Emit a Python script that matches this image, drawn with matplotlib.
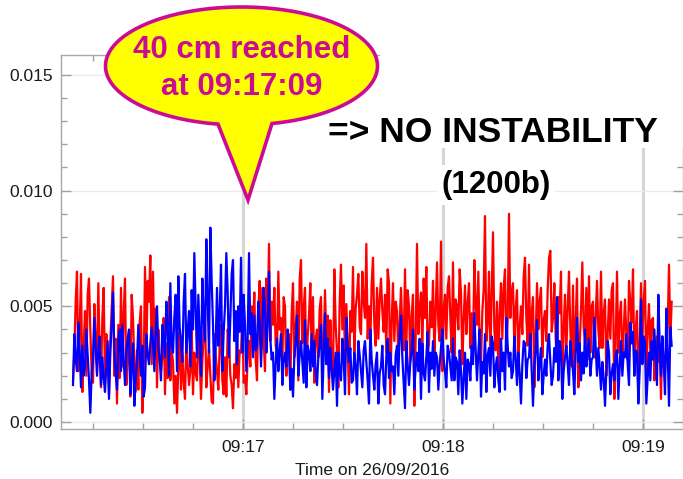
import matplotlib
matplotlib.use("Agg")
import matplotlib.pyplot as plt
import matplotlib.dates as mdates
import numpy as np
import pandas as pd
from matplotlib.patches import Polygon, Rectangle
from matplotlib.ticker import MultipleLocator, FormatStrFormatter

# sample clock: one reading every 0.4 s starting 09:16:09
START = "2016-09-26 09:16:09"
STEP = "400ms"

red_signal = [
    0.0018, 0.0030, 0.0052, 0.0065, 0.0022, 0.0040, 0.0064, 0.0013, 0.0033, 0.0048,
    0.0020, 0.0055, 0.0062, 0.0040, 0.0021, 0.0017, 0.0051, 0.0034, 0.0025, 0.0060,
    0.0028, 0.0015, 0.0045, 0.0058, 0.0019, 0.0038, 0.0026, 0.0012, 0.0035, 0.0049,
    0.0063, 0.0020, 0.0036, 0.0008, 0.0042, 0.0019, 0.0058, 0.0024, 0.0047, 0.0062,
    0.0016, 0.0029, 0.0038, 0.0011, 0.0055, 0.0045, 0.0026, 0.0013, 0.0031, 0.0014,
    0.0043, 0.0050, 0.0004, 0.0022, 0.0067, 0.0030, 0.0061, 0.0052, 0.0072, 0.0025,
    0.0065, 0.0030, 0.0049, 0.0015, 0.0040, 0.0027, 0.0022, 0.0028, 0.0045, 0.0012,
    0.0034, 0.0019, 0.0054, 0.0018, 0.0031, 0.0026, 0.0008, 0.0020, 0.0004, 0.0024,
    0.0039, 0.0014, 0.0030, 0.0017, 0.0010, 0.0036, 0.0025, 0.0016, 0.0022, 0.0041,
    0.0012, 0.0030, 0.0021, 0.0018, 0.0045, 0.0027, 0.0010, 0.0026, 0.0037, 0.0048,
    0.0015, 0.0024, 0.0032, 0.0020, 0.0009, 0.0008, 0.0038, 0.0029, 0.0022, 0.0014,
    0.0033, 0.0042, 0.0018, 0.0012, 0.0028, 0.0011, 0.0040, 0.0035, 0.0020, 0.0016,
    0.0006, 0.0025, 0.0019, 0.0038, 0.0015, 0.0031, 0.0030, 0.0046, 0.0017, 0.0020,
    0.0012, 0.0028, 0.0035, 0.0024, 0.0050, 0.0042, 0.0056, 0.0027, 0.0018, 0.0048,
    0.0061, 0.0030, 0.0058, 0.0036, 0.0022, 0.0062, 0.0044, 0.0077, 0.0035, 0.0052,
    0.0042, 0.0058, 0.0033, 0.0030, 0.0065, 0.0040, 0.0045, 0.0025, 0.0054, 0.0050,
    0.0020, 0.0031, 0.0038, 0.0014, 0.0047, 0.0060, 0.0028, 0.0039, 0.0052, 0.0018,
    0.0062, 0.0070, 0.0034, 0.0049, 0.0058, 0.0022, 0.0037, 0.0046, 0.0060, 0.0027,
    0.0054, 0.0017, 0.0036, 0.0040, 0.0028, 0.0049, 0.0054, 0.0022, 0.0031, 0.0057,
    0.0035, 0.0046, 0.0013, 0.0044, 0.0025, 0.0020, 0.0066, 0.0042, 0.0030, 0.0015,
    0.0052, 0.0068, 0.0040, 0.0059, 0.0026, 0.0051, 0.0033, 0.0012, 0.0048, 0.0039,
    0.0067, 0.0030, 0.0049, 0.0055, 0.0064, 0.0041, 0.0038, 0.0065, 0.0052, 0.0045,
    0.0077, 0.0036, 0.0050, 0.0034, 0.0060, 0.0071, 0.0042, 0.0033, 0.0058, 0.0036,
    0.0053, 0.0062, 0.0048, 0.0039, 0.0055, 0.0030, 0.0066, 0.0060, 0.0008, 0.0044,
    0.0060, 0.0035, 0.0052, 0.0048, 0.0028, 0.0043, 0.0058, 0.0040, 0.0031, 0.0066,
    0.0032, 0.0057, 0.0050, 0.0026, 0.0046, 0.0055, 0.0007, 0.0036, 0.0077, 0.0038,
    0.0049, 0.0056, 0.0030, 0.0062, 0.0045, 0.0067, 0.0029, 0.0034, 0.0052, 0.0041,
    0.0061, 0.0030, 0.0047, 0.0069, 0.0042, 0.0035, 0.0078, 0.0022, 0.0049, 0.0055,
    0.0036, 0.0058, 0.0063, 0.0045, 0.0030, 0.0069, 0.0028, 0.0053, 0.0050, 0.0040,
    0.0066, 0.0056, 0.0025, 0.0044, 0.0059, 0.0038, 0.0051, 0.0060, 0.0032, 0.0047,
    0.0030, 0.0070, 0.0051, 0.0042, 0.0065, 0.0034, 0.0025, 0.0048, 0.0057, 0.0089,
    0.0035, 0.0043, 0.0065, 0.0028, 0.0054, 0.0082, 0.0040, 0.0031, 0.0052, 0.0022,
    0.0047, 0.0060, 0.0036, 0.0058, 0.0066, 0.0030, 0.0044, 0.0090, 0.0045, 0.0056,
    0.0060, 0.0032, 0.0049, 0.0057, 0.0024, 0.0041, 0.0050, 0.0038, 0.0063, 0.0071,
    0.0045, 0.0033, 0.0068, 0.0030, 0.0047, 0.0054, 0.0015, 0.0036, 0.0060, 0.0040,
    0.0052, 0.0058, 0.0028, 0.0044, 0.0048, 0.0035, 0.0057, 0.0071, 0.0074, 0.0039,
    0.0045, 0.0060, 0.0036, 0.0028, 0.0054, 0.0047, 0.0065, 0.0013, 0.0040, 0.0055,
    0.0030, 0.0049, 0.0065, 0.0040, 0.0024, 0.0059, 0.0022, 0.0043, 0.0062, 0.0015,
    0.0033, 0.0048, 0.0069, 0.0041, 0.0035, 0.0058, 0.0027, 0.0063, 0.0030, 0.0050,
    0.0052, 0.0028, 0.0044, 0.0061, 0.0040, 0.0032, 0.0065, 0.0032, 0.0047, 0.0053,
    0.0020, 0.0038, 0.0053, 0.0036, 0.0057, 0.0060, 0.0010, 0.0034, 0.0065, 0.0030,
    0.0046, 0.0052, 0.0024, 0.0039, 0.0053, 0.0038, 0.0027, 0.0061, 0.0051, 0.0043,
    0.0066, 0.0025, 0.0040, 0.0048, 0.0010, 0.0033, 0.0060, 0.0035, 0.0052, 0.0061,
    0.0022, 0.0039, 0.0051, 0.0030, 0.0044, 0.0045, 0.0018, 0.0029, 0.0037, 0.0026,
    0.0034, 0.0010, 0.0037, 0.0024, 0.0022, 0.0030, 0.0041, 0.0068, 0.0035, 0.0052,
]

blue_signal = [
    0.0016, 0.0038, 0.0027, 0.0022, 0.0043, 0.0031, 0.0015, 0.0033, 0.0020, 0.0024,
    0.0040, 0.0029, 0.0018, 0.0004, 0.0021, 0.0027, 0.0045, 0.0032, 0.0020, 0.0031,
    0.0037, 0.0016, 0.0028, 0.0019, 0.0013, 0.0024, 0.0035, 0.0010, 0.0030, 0.0042,
    0.0056, 0.0030, 0.0021, 0.0014, 0.0035, 0.0040, 0.0022, 0.0042, 0.0027, 0.0016,
    0.0030, 0.0036, 0.0040, 0.0012, 0.0024, 0.0034, 0.0007, 0.0019, 0.0026, 0.0042,
    0.0031, 0.0020, 0.0033, 0.0011, 0.0015, 0.0038, 0.0029, 0.0025, 0.0034, 0.0041,
    0.0035, 0.0022, 0.0039, 0.0050, 0.0032, 0.0027, 0.0018, 0.0042, 0.0036, 0.0028,
    0.0052, 0.0041, 0.0020, 0.0060, 0.0033, 0.0030, 0.0045, 0.0055, 0.0022, 0.0063,
    0.0041, 0.0035, 0.0026, 0.0052, 0.0064, 0.0030, 0.0039, 0.0048, 0.0024, 0.0057,
    0.0040, 0.0073, 0.0049, 0.0028, 0.0055, 0.0037, 0.0020, 0.0062, 0.0045, 0.0035,
    0.0079, 0.0052, 0.0030, 0.0084, 0.0061, 0.0042, 0.0018, 0.0033, 0.0058, 0.0033,
    0.0047, 0.0068, 0.0022, 0.0039, 0.0050, 0.0073, 0.0056, 0.0028, 0.0045, 0.0064,
    0.0070, 0.0035, 0.0048, 0.0025, 0.0050, 0.0039, 0.0071, 0.0030, 0.0055, 0.0042,
    0.0022, 0.0036, 0.0073, 0.0038, 0.0047, 0.0028, 0.0046, 0.0031, 0.0033, 0.0052,
    0.0043, 0.0024, 0.0040, 0.0058, 0.0048, 0.0030, 0.0041, 0.0065, 0.0036, 0.0027,
    0.0030, 0.0010, 0.0025, 0.0036, 0.0022, 0.0031, 0.0038, 0.0016, 0.0027, 0.0030,
    0.0024, 0.0040, 0.0032, 0.0014, 0.0023, 0.0011, 0.0028, 0.0035, 0.0046, 0.0020,
    0.0029, 0.0035, 0.0026, 0.0017, 0.0044, 0.0015, 0.0033, 0.0030, 0.0022, 0.0038,
    0.0024, 0.0035, 0.0021, 0.0016, 0.0028, 0.0034, 0.0042, 0.0010, 0.0029, 0.0047,
    0.0025, 0.0036, 0.0019, 0.0032, 0.0023, 0.0014, 0.0022, 0.0030, 0.0007, 0.0030,
    0.0021, 0.0018, 0.0036, 0.0027, 0.0012, 0.0045, 0.0033, 0.0026, 0.0032, 0.0017,
    0.0018, 0.0030, 0.0024, 0.0012, 0.0035, 0.0029, 0.0022, 0.0015, 0.0031, 0.0035,
    0.0026, 0.0018, 0.0008, 0.0040, 0.0027, 0.0020, 0.0014, 0.0025, 0.0030, 0.0008,
    0.0021, 0.0024, 0.0033, 0.0016, 0.0012, 0.0028, 0.0036, 0.0019, 0.0030, 0.0022,
    0.0024, 0.0012, 0.0029, 0.0033, 0.0020, 0.0038, 0.0046, 0.0028, 0.0017, 0.0006,
    0.0035, 0.0025, 0.0016, 0.0026, 0.0031, 0.0040, 0.0014, 0.0024, 0.0030, 0.0022,
    0.0036, 0.0010, 0.0034, 0.0021, 0.0018, 0.0028, 0.0039, 0.0013, 0.0030, 0.0023,
    0.0035, 0.0020, 0.0030, 0.0028, 0.0014, 0.0025, 0.0032, 0.0040, 0.0027, 0.0022,
    0.0015, 0.0033, 0.0030, 0.0024, 0.0018, 0.0036, 0.0018, 0.0028, 0.0026, 0.0012,
    0.0031, 0.0022, 0.0008, 0.0019, 0.0030, 0.0010, 0.0027, 0.0025, 0.0018, 0.0033,
    0.0025, 0.0047, 0.0031, 0.0018, 0.0030, 0.0040, 0.0011, 0.0026, 0.0021, 0.0038,
    0.0013, 0.0029, 0.0032, 0.0020, 0.0037, 0.0034, 0.0015, 0.0024, 0.0028, 0.0018,
    0.0013, 0.0036, 0.0022, 0.0030, 0.0014, 0.0045, 0.0033, 0.0024, 0.0030, 0.0019,
    0.0022, 0.0037, 0.0028, 0.0016, 0.0030, 0.0021, 0.0008, 0.0025, 0.0035, 0.0034,
    0.0019, 0.0027, 0.0028, 0.0038, 0.0022, 0.0007, 0.0024, 0.0031, 0.0044, 0.0018,
    0.0026, 0.0032, 0.0012, 0.0020, 0.0027, 0.0020, 0.0033, 0.0038, 0.0026, 0.0016,
    0.0020, 0.0032, 0.0026, 0.0054, 0.0018, 0.0035, 0.0030, 0.0010, 0.0022, 0.0028,
    0.0033, 0.0025, 0.0016, 0.0035, 0.0028, 0.0022, 0.0012, 0.0030, 0.0045, 0.0026,
    0.0034, 0.0018, 0.0030, 0.0021, 0.0040, 0.0024, 0.0031, 0.0036, 0.0020, 0.0027,
    0.0028, 0.0045, 0.0033, 0.0020, 0.0032, 0.0024, 0.0014, 0.0026, 0.0019, 0.0007,
    0.0022, 0.0035, 0.0030, 0.0012, 0.0021, 0.0025, 0.0018, 0.0029, 0.0031, 0.0010,
    0.0024, 0.0035, 0.0020, 0.0030, 0.0028, 0.0038, 0.0025, 0.0016, 0.0043, 0.0034,
    0.0039, 0.0020, 0.0031, 0.0030, 0.0008, 0.0022, 0.0053, 0.0025, 0.0037, 0.0034,
    0.0008, 0.0019, 0.0030, 0.0018, 0.0035, 0.0027, 0.0040, 0.0028, 0.0016, 0.0055,
    0.0034, 0.0020, 0.0037, 0.0026, 0.0012, 0.0049, 0.0030, 0.0007, 0.0041, 0.0033,
]

y_ticks = [0.000, 0.005, 0.010, 0.015]

W, H = 683, 479
FONT = "Liberation Sans"
MAGENTA = "#cc0b95"


def main():
    plt.rcParams["font.family"] = [FONT, "DejaVu Sans"]
    fig = plt.figure(figsize=(W / 100, H / 100), dpi=100)
    ax = fig.add_axes([61 / W, 1 - 429 / H, (683 - 61) / W, (429 - 55) / H])

    for values, color, z in ((red_signal, "#ff0000", 3), (blue_signal, "#0000ff", 4)):
        times = pd.date_range(START, periods=len(values), freq=STEP)
        ax.plot(times, values, color=color, lw=1.6, zorder=z)

    ax.set_xlim(pd.Timestamp("2016-09-26 09:16:05.4"), pd.Timestamp("2016-09-26 09:19:12"))
    ax.set_ylim(-0.0003, 0.01586)

    ax.xaxis.set_major_locator(mdates.MinuteLocator())
    ax.xaxis.set_minor_locator(mdates.SecondLocator(bysecond=[15, 30, 45]))
    ax.xaxis.set_major_formatter(mdates.DateFormatter("%H:%M"))
    ax.set_yticks(y_ticks)
    ax.yaxis.set_minor_locator(MultipleLocator(0.001))
    ax.yaxis.set_major_formatter(FormatStrFormatter("%.3f"))

    ax.grid(True, axis="x", which="major", color="#d6d6d6", lw=2.2, zorder=1)
    ax.grid(True, axis="y", which="major", color="#ebebeb", lw=1.0, zorder=1)

    for s in ax.spines.values():
        s.set_color("#a8a8a8")
        s.set_linewidth(1.0)
    ax.tick_params(which="both", direction="in", top=True, right=True, colors="#a0a0a0",
                   labelcolor="#1a1a1a", labelsize=12.5)
    ax.tick_params(which="major", length=7, width=1)
    ax.tick_params(which="minor", length=4, width=1)
    ax.tick_params(axis="x", pad=8)
    ax.tick_params(axis="y", pad=6)
    ax.set_xlabel("Time on 26/09/2016", fontsize=12.5, color="#1a1a1a", labelpad=6)

    # overlay in pixel coordinates for the callout and the note
    ov = fig.add_axes([0, 0, 1, 1], zorder=10)
    ov.set_xlim(0, W)
    ov.set_ylim(H, 0)
    ov.axis("off")
    ov.patch.set_alpha(0)

    cx, cy, a, b = 241.5, 66.0, 136.0, 59.0
    t_left = np.arccos((218 - cx) / a)
    t_right = np.arccos((272 - cx) / a)
    t = np.linspace(t_left, 2 * np.pi + t_right, 300)
    pts = np.column_stack([cx + a * np.cos(t), cy + b * np.sin(t)])
    pts = np.vstack([pts, [[248, 200]]])
    ov.add_patch(Polygon(pts, closed=True, facecolor="#ffff00", edgecolor=MAGENTA, lw=2.6,
                         joinstyle="miter"))
    ov.text(cx, 50, "40 cm reached", ha="center", va="center", fontsize=22.5,
            fontweight="bold", color=MAGENTA)
    ov.text(cx, 87, "at 09:17:09", ha="center", va="center", fontsize=22.5,
            fontweight="bold", color=MAGENTA)

    # white text frame of the note hides the frame and grid behind it
    ov.add_patch(Rectangle((380, 40), 303, 108, facecolor="white", edgecolor="none"))
    ov.text(493, 133, "=> NO INSTABILITY", ha="center", va="center", fontsize=25.5,
            fontweight="bold", color="black")
    ov.text(496, 185, "(1200b)", ha="center", va="center", fontsize=22.5,
            fontweight="bold", color="black",
            bbox=dict(boxstyle="square,pad=0.15", facecolor="white", edgecolor="none"))

    fig.savefig("out.png", dpi=100)
    plt.close(fig)


if __name__ == "__main__":
    main()
